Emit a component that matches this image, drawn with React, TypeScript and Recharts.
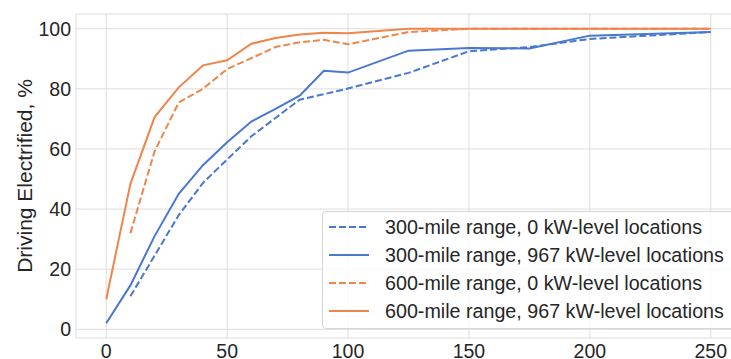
import { LineChart, Line, XAxis, YAxis, CartesianGrid, ReferenceArea } from "recharts";

const xValues = [0, 10, 20, 30, 40, 50, 60, 70, 80, 90, 100, 125, 150, 175, 200, 250];
const range300Zero = [null, 11, 24.5, 38, 48.7, 56.5, 64.2, 70.3, 76.4, 78.2, 80.1, 85.3, 92.5, 93.9, 96.6, 98.9];
const range300Full = [2, 14.6, 31, 45.1, 54.6, 62.2, 69.1, 73.3, 77.7, 86, 85.4, 92.7, 93.6, 93.4, 97.7, 98.9];
const range600Zero = [null, 32, 59.2, 75.5, 80, 86.6, 90.2, 93.9, 95.5, 96.3, 94.8, 98.9, 100, 100, 100, 100];
const range600Full = [10, 48.4, 70.6, 80.5, 87.8, 89.5, 95, 96.9, 98.1, 98.7, 98.5, 100, 100, 100, 100, 100];

const xTicks = [0, 50, 100, 150, 200, 250];
const yTicks = [0, 20, 40, 60, 80, 100];

const BLUE = "#4878d0";
const ORANGE = "#ee854a";
const INK = "#262626";
const DASH = "7 3";

const series = [
  { key: "r300zero", name: "300-mile range, 0 kW-level locations", color: BLUE, dashed: true },
  { key: "r300full", name: "300-mile range, 967 kW-level locations", color: BLUE, dashed: false },
  { key: "r600zero", name: "600-mile range, 0 kW-level locations", color: ORANGE, dashed: true },
  { key: "r600full", name: "600-mile range, 967 kW-level locations", color: ORANGE, dashed: false },
];

const data = xValues.map((x, i) => ({
  x,
  r300zero: range300Zero[i],
  r300full: range300Full[i],
  r600zero: range600Zero[i],
  r600full: range600Full[i],
}));

function ChartLegend() {
  return (
    <div
      style={{
        position: "absolute", left: 322, top: 211, width: 440, height: 116,
        border: "1px solid #d6d6d6", borderRadius: 4, background: "rgba(255,255,255,0.8)",
      }}
    >
      {series.map((s, i) => (
        <div key={s.key} style={{ position: "absolute", left: 0, top: 1 + i * 28, height: 28, display: "flex", alignItems: "center" }}>
          <svg width={40} height={4} style={{ marginLeft: 6 }}>
            <line x1={0} y1={2} x2={40} y2={2} stroke={s.color} strokeWidth={2} strokeDasharray={s.dashed ? DASH : undefined} />
          </svg>
          <span style={{ marginLeft: 16, fontSize: 19.7, color: INK, whiteSpace: "nowrap" }}>{s.name}</span>
        </div>
      ))}
    </div>
  );
}

export default function App() {
  return (
    <div
      style={{
        position: "fixed", left: 0, top: 0, width: 731, height: 359, overflow: "hidden",
        background: "#fff", fontFamily: "'Liberation Sans', Arial, sans-serif",
      }}
    >
      <LineChart width={745} height={370} data={data} margin={{ top: 14, right: 4, bottom: 0, left: 0 }}>
        <CartesianGrid stroke="#dddddd" strokeWidth={1} />
        <ReferenceArea fill="none" stroke="#d0d0d0" strokeWidth={1.25} ifOverflow="visible" />
        <XAxis
          dataKey="x" type="number" domain={[-12.5, 262.5]} ticks={xTicks} allowDataOverflow
          height={32} axisLine={false} tickLine={false} tickSize={0} tickMargin={6}
          tick={{ fill: INK, fontSize: 19.5 }}
        />
        <YAxis
          type="number" domain={[-2.9, 104.9]} ticks={yTicks} allowDataOverflow
          width={76} axisLine={false} tickLine={false} tickSize={0} tickMargin={5}
          tick={{ fill: INK, fontSize: 19.5 }}
          label={{ value: "Driving Electrified, %", angle: -90, position: "center", dx: -13, fill: INK, fontSize: 21 }}
        />
        {series.map((s) => (
          <Line
            key={s.key} dataKey={s.key} name={s.name} stroke={s.color} strokeWidth={2}
            strokeDasharray={s.dashed ? DASH : undefined} dot={false} activeDot={false}
            isAnimationActive={false} type="linear"
          />
        ))}
      </LineChart>
      <ChartLegend />
    </div>
  );
}
